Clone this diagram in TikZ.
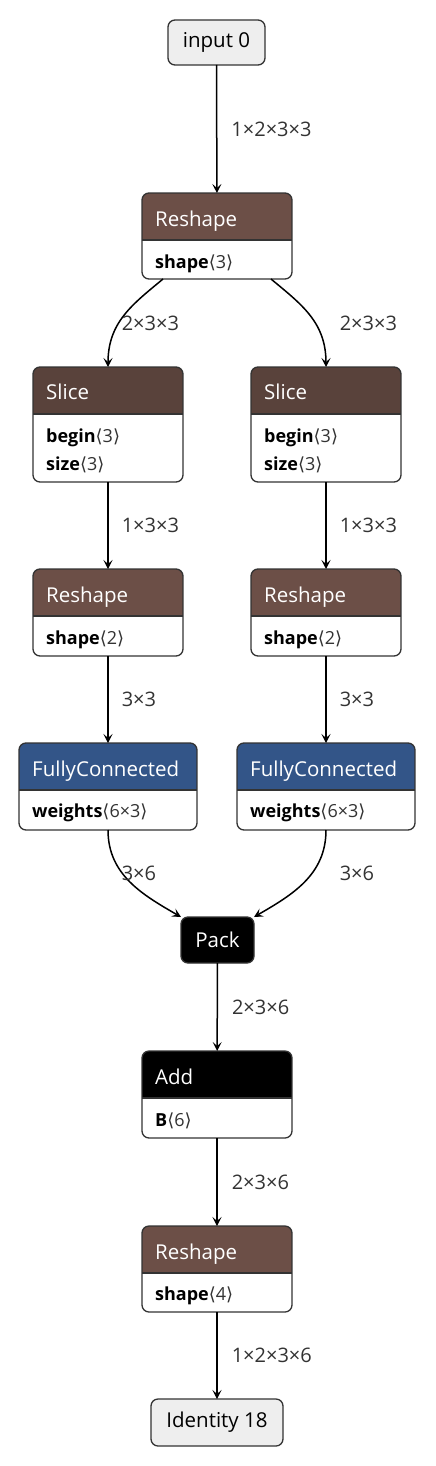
\documentclass[tikz,border=0pt]{standalone}
\usepackage{fontspec}
\setmainfont{Open Sans}
\newfontfamily\bracketfont{DejaVu Sans}
\usepackage{tikz}
\usetikzlibrary{arrows.meta,positioning}
\definecolor{shapebrown}{RGB}{108,79,71}
\definecolor{tensorbrown}{RGB}{89,66,59}
\definecolor{layerblue}{RGB}{51,85,136}
\definecolor{boxgray}{RGB}{51,51,51}
\definecolor{iofill}{RGB}{238,238,238}
\tikzset{>={Stealth[length=9pt,width=9pt,inset=4pt]}}
\tikzset{
  edge/.style={->,line width=1.5pt,black},
  lbl/.style={font=\fontsize{20}{23}\selectfont,text=boxgray,inner sep=0pt},
  iobox/.style={draw=boxgray,line width=1.3pt,fill=iofill,rounded corners=7pt,
    inner sep=0pt,outer sep=0pt,font=\fontsize{20.5}{24}\selectfont},
  opframe/.style={draw=boxgray,line width=1.3pt,rounded corners=7pt,inner sep=0pt,outer sep=0pt},
  optitle/.style={font=\fontsize{20.5}{24}\selectfont,text=white,inner sep=0pt,anchor=base west},
  attr/.style={font=\fontsize{18}{22}\selectfont,inner sep=0pt,anchor=base west},
}
% attribute name with its shape
\newcommand{\attrval}[2]{\textbf{#1}\textcolor{boxgray}{{\bracketfont ⟨}#2{\bracketfont ⟩}}}
% operator box: name, west, top, width, height, header colour
\newcommand{\opbox}[6]{%
  \begin{scope}
    \clip[rounded corners=7pt] (#2,#3) rectangle ++(#4,#5);
    \fill[white] (#2,#3) rectangle ++(#4,#5);
    \fill[#6] (#2,#3) rectangle ++(#4,47);
  \end{scope}
  \draw[boxgray,line width=1.3pt] (#2,#3+47) -- ++(#4,0);
  \node[opframe,anchor=north west,minimum width=#4,minimum height=#5] (#1) at (#2,#3) {};
}

\begin{document}
\begin{tikzpicture}[x=1pt,y=-1pt]
    \useasboundingbox (0,0) rectangle (436,1466);
    % inputs and outputs
    \node[iobox,minimum width=97,minimum height=45] (input) at (216.5,42.5) {input 0};
    \node[iobox,minimum width=132,minimum height=47] (identity) at (217,1422.5) {Identity 18};
    \node[iobox,fill=black,text=white,minimum width=73,minimum height=46] (pack) at (217.5,940) {Pack};

    % operators
    \opbox{reshapeA}{142}{193}{150}{86}{shapebrown}
    \node[optitle] at (155,226) {Reshape};
    \node[attr] at (155,268) {\attrval{shape}{3}};

    \opbox{sliceA}{33}{367}{150}{115}{tensorbrown}
    \node[optitle] at (46,399) {Slice};
    \node[attr] at (46,442) {\attrval{begin}{3}};
    \node[attr] at (46,470) {\attrval{size}{3}};

    \opbox{sliceB}{251}{367}{150}{115}{tensorbrown}
    \node[optitle] at (264,399) {Slice};
    \node[attr] at (264,442) {\attrval{begin}{3}};
    \node[attr] at (264,470) {\attrval{size}{3}};

    \opbox{reshapeB}{33}{569}{150}{87}{shapebrown}
    \node[optitle] at (46,602) {Reshape};
    \node[attr] at (46,644) {\attrval{shape}{2}};

    \opbox{reshapeC}{251}{569}{150}{87}{shapebrown}
    \node[optitle] at (264,602) {Reshape};
    \node[attr] at (264,644) {\attrval{shape}{2}};

    \opbox{fcA}{19}{743}{178}{87}{layerblue}
    \node[optitle] at (32,776) {FullyConnected};
    \node[attr] at (32,817) {\attrval{weights}{6×3}};

    \opbox{fcB}{237}{743}{178}{87}{layerblue}
    \node[optitle] at (250,776) {FullyConnected};
    \node[attr] at (250,817) {\attrval{weights}{6×3}};

    \opbox{add}{142}{1051}{150}{87}{black}
    \node[optitle] at (155,1084) {Add};
    \node[attr] at (155,1126) {\attrval{B}{6}};

    \opbox{reshapeD}{142}{1226}{150}{86}{shapebrown}
    \node[optitle] at (155,1259) {Reshape};
    \node[attr] at (155,1300) {\attrval{shape}{4}};

    % connectors
    \draw[edge] (input) -- (reshapeA) node[lbl,midway,right=14pt] {1×2×3×3};
    \draw[edge] ([xshift=-54pt]reshapeA.south) .. controls +(-30,25) and +(0,-45) .. (sliceA.north)
        node[lbl,anchor=west] at (121,323) {2×3×3};
    \draw[edge] ([xshift=54pt]reshapeA.south) .. controls +(30,25) and +(0,-45) .. (sliceB.north)
        node[lbl,anchor=west] at (339,323) {2×3×3};
    \draw[edge] (sliceA) -- (reshapeB) node[lbl,midway,right=13pt] {1×3×3};
    \draw[edge] (sliceB) -- (reshapeC) node[lbl,midway,right=13pt] {1×3×3};
    \draw[edge] (reshapeB) -- (fcA) node[lbl,midway,right=13pt] {3×3};
    \draw[edge] (reshapeC) -- (fcB) node[lbl,midway,right=13pt] {3×3};
    \draw[edge] (fcA.south) .. controls +(0,45) and +(-38,-22) .. (pack.north west)
        node[lbl,anchor=west] at (121,873) {3×6};
    \draw[edge] (fcB.south) .. controls +(0,45) and +(38,-22) .. (pack.north east)
        node[lbl,anchor=west] at (339,873) {3×6};
    \draw[edge] (pack) -- (add) node[lbl,midway,right=14pt] {2×3×6};
    \draw[edge] (add) -- (reshapeD) node[lbl,midway,right=14pt] {2×3×6};
    \draw[edge] (reshapeD) -- (identity) node[lbl,midway,right=14pt] {1×2×3×6};
\end{tikzpicture}
\end{document}
